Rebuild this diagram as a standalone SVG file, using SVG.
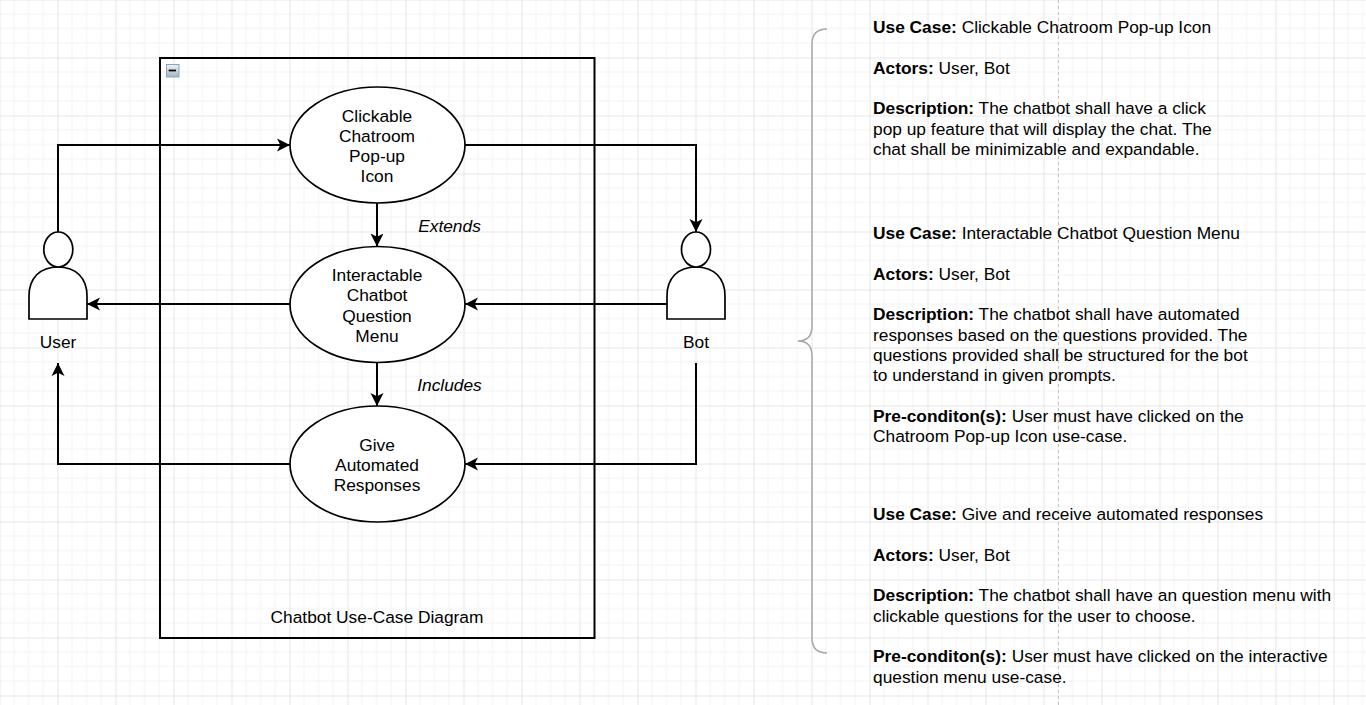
<svg xmlns="http://www.w3.org/2000/svg" width="1366" height="705" viewBox="0 0 1366 705">
<defs>
<pattern id="grid" width="58" height="58" patternUnits="userSpaceOnUse" x="-0.5" y="-0.5">
<path d="M14.5 0V58M29 0V58M43.5 0V58M0 14.5H58M0 29H58M0 43.5H58" fill="none" stroke="#f3f3f3" stroke-width="1"/>
<path d="M0 0V58M0 0H58" fill="none" stroke="#e6e6e6" stroke-width="2"/>
</pattern>
<marker id="arrow" markerUnits="userSpaceOnUse" markerWidth="16" markerHeight="16" refX="13" refY="8" orient="auto">
<path d="M0 1.500 L13 8 L0 14.500 L3.300 8 Z" fill="#000"/>
</marker>
<linearGradient id="minus" x1="0" y1="0" x2="0" y2="1"><stop offset="0" stop-color="#eef2f6"/><stop offset="1" stop-color="#a3b2c4"/></linearGradient>
</defs>
<style>
text{font-family:"Liberation Sans",Arial,sans-serif;font-size:17.33px;fill:#000}
.c{text-anchor:middle}
.n{fill:#fff;stroke:#000;stroke-width:1.7}
.e{fill:none;stroke:#000;stroke-width:2;marker-end:url(#arrow)}
.b{font-weight:bold}
</style>
<rect width="1366" height="705" fill="#fff"/>
<rect width="1366" height="705" fill="url(#grid)"/>
<path d="M1058.5 0V705" stroke="#c4c4c4" stroke-width="1" stroke-dasharray="3 3" fill="none"/>

<g id="boundary">
<rect x="160" y="58" width="434.500" height="580" fill="none" stroke="#000" stroke-width="2"/>
<rect x="166.500" y="64.500" width="12.500" height="12.500" fill="url(#minus)" stroke="#8aa4c0" stroke-width="1"/>
<path d="M168.700 70.500H176" stroke="#000" stroke-width="1.700"/>
<text class="c" x="377" y="623">Chatbot Use-Case Diagram</text>
</g>

<g id="connectors">
<path class="e" d="M58 232V145H290"/>
<path class="e" d="M465 145H696V232"/>
<path class="e" d="M377 203V246.500"/>
<path class="e" d="M290 304H87"/>
<path class="e" d="M667 304H465"/>
<path class="e" d="M377 362V406"/>
<path class="e" d="M290 464H58V363"/>
<path class="e" d="M696 363V464H465"/>
</g>

<g id="uc1"><ellipse class="n" cx="377.500" cy="145" rx="87.500" ry="58"/>
<text class="c" x="377" y="121.500">Clickable</text><text class="c" x="377" y="142">Chatroom</text><text class="c" x="377" y="162">Pop-up</text><text class="c" x="377" y="182">Icon</text></g>
<g id="uc2"><ellipse class="n" cx="377.500" cy="304.500" rx="87.500" ry="58"/>
<text class="c" x="377" y="281">Interactable</text><text class="c" x="377" y="301">Chatbot</text><text class="c" x="377" y="321.500">Question</text><text class="c" x="377" y="342">Menu</text></g>
<g id="uc3"><ellipse class="n" cx="377.500" cy="464" rx="87.500" ry="58"/>
<text class="c" x="377" y="451">Give</text><text class="c" x="377" y="471">Automated</text><text class="c" x="377" y="491">Responses</text></g>

<g id="user"><path class="n" d="M29 319V296C29 278 40 267 58 267C76 267 87 278 87 296V319Z"/><ellipse class="n" cx="58.300" cy="249.500" rx="14.500" ry="17.500"/><text class="c" x="58" y="348">User</text></g>
<g id="bot"><path class="n" d="M667 319V296C667 278 678 267 696 267C714 267 725 278 725 296V319Z"/><ellipse class="n" cx="696" cy="249.500" rx="14.500" ry="17.500"/><text class="c" x="696" y="348">Bot</text></g>

<g id="label-extends"><text class="c" x="449.500" y="232" font-style="italic">Extends</text></g>
<g id="label-includes"><text class="c" x="449.500" y="391" font-style="italic">Includes</text></g>

<g id="brace"><path d="M827 29C817 29 812 34 812 44V326C812 336 807 341 798 341C807 341 812 346 812 356V638C812 648 817 653 827 653" fill="none" stroke="#a6a6a6" stroke-width="1.500"/></g>

<g id="text1">
<text x="873" y="33"><tspan class="b">Use Case:</tspan> Clickable Chatroom Pop-up Icon</text>
<text x="873" y="74"><tspan class="b">Actors:</tspan> User, Bot</text>
<text x="873" y="114"><tspan class="b">Description:</tspan> The chatbot shall have a click</text>
<text x="873" y="134.500">pop up feature that will display the chat. The</text>
<text x="873" y="155">chat shall be minimizable and expandable.</text>
</g>
<g id="text2">
<text x="873" y="239"><tspan class="b">Use Case:</tspan> Interactable Chatbot Question Menu</text>
<text x="873" y="280"><tspan class="b">Actors:</tspan> User, Bot</text>
<text x="873" y="320"><tspan class="b">Description:</tspan> The chatbot shall have automated</text>
<text x="873" y="340.500">responses based on the questions provided. The</text>
<text x="873" y="361">questions provided shall be structured for the bot</text>
<text x="873" y="381">to understand in given prompts.</text>
<text x="873" y="422"><tspan class="b">Pre-conditon(s):</tspan> User must have clicked on the</text>
<text x="873" y="442">Chatroom Pop-up Icon use-case.</text>
</g>
<g id="text3">
<text x="873" y="520"><tspan class="b">Use Case:</tspan> Give and receive automated responses</text>
<text x="873" y="561"><tspan class="b">Actors:</tspan> User, Bot</text>
<text x="873" y="601"><tspan class="b">Description:</tspan> The chatbot shall have an question menu with</text>
<text x="873" y="622">clickable questions for the user to choose.</text>
<text x="873" y="662"><tspan class="b">Pre-conditon(s):</tspan> User must have clicked on the interactive</text>
<text x="873" y="682.500">question menu use-case.</text>
</g>
</svg>
